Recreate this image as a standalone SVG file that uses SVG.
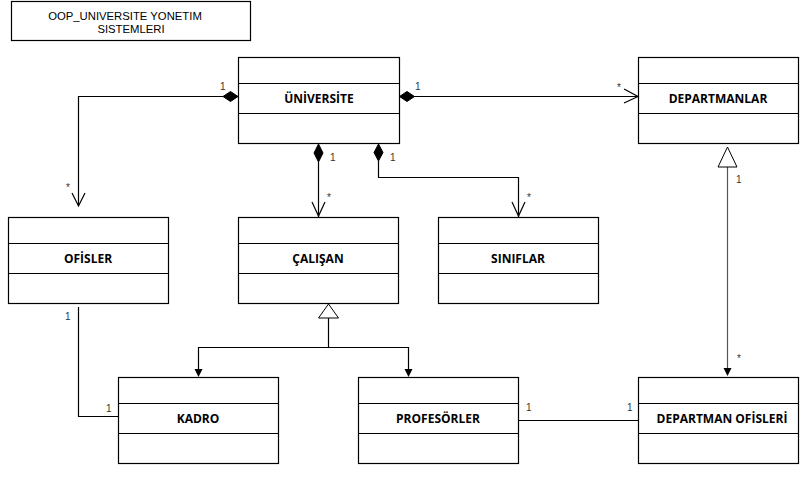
<svg xmlns="http://www.w3.org/2000/svg" width="801" height="487" viewBox="0 0 801 487">
<style>
.box{fill:#fff;stroke:#000;stroke-width:1.2}
.sep{stroke:#000;stroke-width:1.2}
.name{font-family:"Open Sans","Liberation Sans",sans-serif;font-weight:bold;font-size:12px;fill:#000;text-anchor:middle}
.title{font-family:"Liberation Sans",Arial,sans-serif;font-size:11.3px;fill:#000;text-anchor:middle}
.lbl{font-family:"Liberation Sans",Arial,sans-serif;font-size:10px;fill:#333}
.ln{fill:none;stroke:#000;stroke-width:1.2}
.open{fill:none;stroke:#000;stroke-width:1.2}
.dia{fill:#000;stroke:#000;stroke-width:1}
.tri{fill:#fff;stroke:#000;stroke-width:1}
.fill{fill:#000;stroke:none}
</style>
<rect width="801" height="487" fill="#fff"/>
<g id="title">
<rect x="11.5" y="1.5" width="239" height="39" class="box"/>
<text x="125" y="20" class="title">OOP_UNIVERSITE YONETIM</text>
<text x="131" y="33" class="title">SISTEMLERI</text>
</g>
<g id="universite">
<rect x="238.5" y="57.5" width="161" height="86" class="box"/>
<line x1="238.5" y1="83.5" x2="399.5" y2="83.5" class="sep"/>
<line x1="238.5" y1="113.5" x2="399.5" y2="113.5" class="sep"/>
<text x="319" y="103" class="name">ÜNİVERSİTE</text>
</g>
<g id="departmanlar">
<rect x="638.5" y="57.5" width="160" height="86" class="box"/>
<line x1="638.5" y1="83.5" x2="798.5" y2="83.5" class="sep"/>
<line x1="638.5" y1="113.5" x2="798.5" y2="113.5" class="sep"/>
<text x="718" y="103" class="name">DEPARTMANLAR</text>
</g>
<g id="ofisler">
<rect x="8.5" y="217.5" width="160" height="86" class="box"/>
<line x1="8.5" y1="243.5" x2="168.5" y2="243.5" class="sep"/>
<line x1="8.5" y1="273.5" x2="168.5" y2="273.5" class="sep"/>
<text x="88" y="263" class="name">OFİSLER</text>
</g>
<g id="calisan">
<rect x="238.5" y="217.5" width="160" height="86" class="box"/>
<line x1="238.5" y1="243.5" x2="398.5" y2="243.5" class="sep"/>
<line x1="238.5" y1="273.5" x2="398.5" y2="273.5" class="sep"/>
<text x="318" y="263" class="name">ÇALIŞAN</text>
</g>
<g id="siniflar">
<rect x="438.5" y="217.5" width="160" height="86" class="box"/>
<line x1="438.5" y1="243.5" x2="598.5" y2="243.5" class="sep"/>
<line x1="438.5" y1="273.5" x2="598.5" y2="273.5" class="sep"/>
<text x="518" y="263" class="name">SINIFLAR</text>
</g>
<g id="kadro">
<rect x="118.5" y="377.5" width="160" height="86" class="box"/>
<line x1="118.5" y1="403.5" x2="278.5" y2="403.5" class="sep"/>
<line x1="118.5" y1="433.5" x2="278.5" y2="433.5" class="sep"/>
<text x="198" y="423" class="name">KADRO</text>
</g>
<g id="profesorler">
<rect x="358.5" y="377.5" width="160" height="86" class="box"/>
<line x1="358.5" y1="403.5" x2="518.5" y2="403.5" class="sep"/>
<line x1="358.5" y1="433.5" x2="518.5" y2="433.5" class="sep"/>
<text x="438" y="423" class="name">PROFESÖRLER</text>
</g>
<g id="departman-ofisleri">
<rect x="638.5" y="377.5" width="160" height="86" class="box"/>
<line x1="638.5" y1="403.5" x2="798.5" y2="403.5" class="sep"/>
<line x1="638.5" y1="433.5" x2="798.5" y2="433.5" class="sep"/>
<text x="722" y="423" class="name">DEPARTMAN OFİSLERİ</text>
</g>
<g id="connectors">
<!-- Universite -> Ofisler -->
<polyline points="223,96.5 78.5,96.5 78.5,206" class="ln"/>
<polygon points="238,96.5 230.5,91.5 223,96.5 230.5,101.5" class="dia"/>
<polyline points="72,193 78.5,206 85,193" class="open"/>
<text x="220" y="90" class="lbl">1</text>
<text x="66" y="191" class="lbl">*</text>
<!-- Universite -> Departmanlar -->
<line x1="414" y1="96.5" x2="638" y2="96.5" class="ln"/>
<polygon points="399.5,96.5 407,91.5 414.5,96.5 407,101.5" class="dia"/>
<polyline points="624,89 638,96.5 624,103" class="open"/>
<text x="415" y="90" class="lbl">1</text>
<text x="617" y="91" class="lbl">*</text>
<!-- Universite -> Calisan -->
<line x1="318.5" y1="162" x2="318.5" y2="217" class="ln"/>
<polygon points="318.5,144 314,153 318.5,162 323,153" class="dia"/>
<polyline points="312,202 318.5,216 325,202" class="open"/>
<text x="330" y="161" class="lbl">1</text>
<text x="327" y="201" class="lbl">*</text>
<!-- Universite -> Siniflar -->
<polyline points="378.5,161 378.5,177.5 518.5,177.5 518.5,217" class="ln"/>
<polygon points="378.5,144 374,152.5 378.5,161 383,152.5" class="dia"/>
<polyline points="512,202 518.5,216 525,202" class="open"/>
<text x="390" y="161" class="lbl">1</text>
<text x="527" y="201" class="lbl">*</text>
<!-- Departman Ofisleri -> Departmanlar -->
<line x1="727.5" y1="167" x2="727.5" y2="370" stroke="#555" stroke-width="1.2"/>
<polygon points="727.5,147 718,167 737,167" class="tri"/>
<polygon points="723.5,368 731.5,368 727.5,376" class="fill"/>
<text x="736" y="183" class="lbl">1</text>
<text x="737" y="362" class="lbl">*</text>
<!-- Calisan -> Kadro / Profesorler -->
<polygon points="328.5,304 318.5,318 338.5,318" class="tri"/>
<polyline points="328.5,318 328.5,347.5" class="ln"/>
<polyline points="198.5,370 198.5,347.5 408.5,347.5 408.5,370" class="ln"/>
<polygon points="194.5,369 202.5,369 198.5,377" class="fill"/>
<polygon points="404.5,369 412.5,369 408.5,377" class="fill"/>
<!-- Ofisler - Kadro -->
<polyline points="78.5,307 78.5,416.5 118,416.5" class="ln"/>
<text x="65" y="320" class="lbl">1</text>
<text x="106" y="412" class="lbl">1</text>
<!-- Profesorler - Departman Ofisleri -->
<line x1="518.5" y1="420.5" x2="638" y2="420.5" class="ln"/>
<text x="526" y="411" class="lbl">1</text>
<text x="627" y="411" class="lbl">1</text>
</g>
</svg>
